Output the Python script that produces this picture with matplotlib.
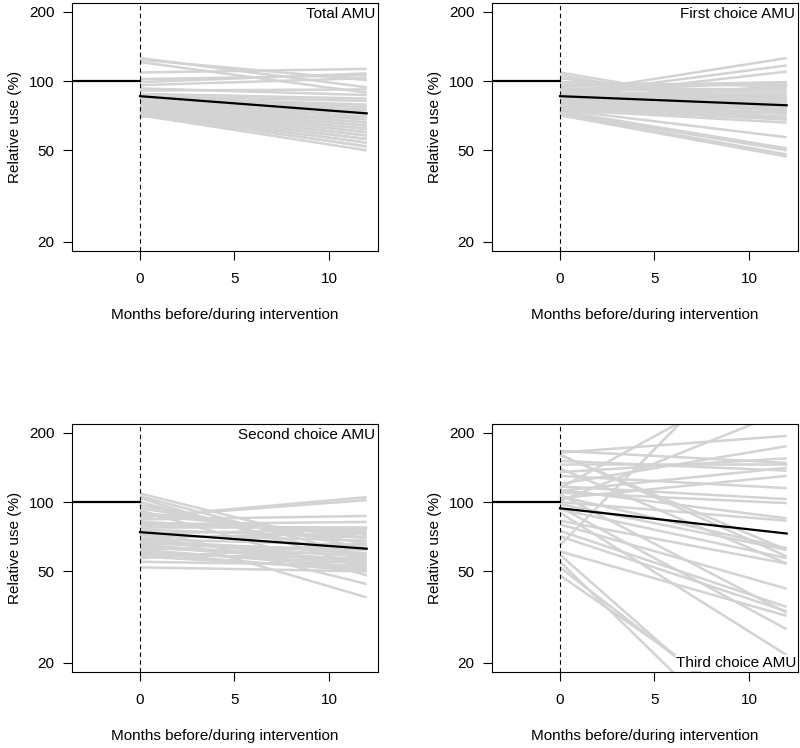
import numpy as np
import matplotlib.pyplot as plt
from matplotlib.ticker import FixedLocator, NullLocator

plt.rcParams['font.family'] = ['Liberation Sans', 'DejaVu Sans']
plt.rcParams['font.size'] = 11

# relative use (%) of each farm at month 0 and month 12
total_start = [126, 124, 121, 109, 102, 99, 96, 93, 91, 88, 86, 85, 84, 83, 82, 82, 81, 80, 80, 79,
               78, 78, 77, 77, 76, 76, 75, 75, 74, 74, 73, 73, 72, 72, 71, 71, 70]
total_end = [94, 101, 89, 113, 106, 108, 103, 87, 92, 84, 82, 79, 77, 75, 73, 72, 70, 68, 66, 66,
             64, 64, 62, 62, 60, 60, 58, 58, 56, 56, 54, 54, 52, 52, 50, 70, 75]

first_start = [109, 106, 103, 99, 97, 95, 93, 92, 90, 89, 88, 88, 87, 86, 85, 85, 84, 83, 83, 82,
               81, 80, 80, 79, 78, 78, 77, 76, 75, 75, 74, 73, 72, 71, 80, 84, 90]
first_end = [74, 72, 78, 95, 97, 99, 92, 90, 99, 88, 126, 86, 117, 85, 110, 84, 82, 81, 80, 78,
             77, 76, 75, 73, 72, 70, 69, 68, 66, 57, 51, 50, 48, 47, 96, 94, 83]

second_start = [109, 106, 104, 100, 97, 94, 92, 90, 88, 86, 86, 84, 82, 80, 79, 78, 77, 76, 75, 73,
                72, 70, 69, 68, 67, 66, 65, 64, 63, 62, 61, 60, 59, 58, 57, 55, 52]
second_end = [62, 58, 52, 56, 63, 66, 48, 70, 72, 105, 102, 87, 74, 82, 77, 78, 44, 70, 38.5, 76,
              68, 73, 65, 60, 58, 62, 56, 55, 59, 52, 54, 50, 57, 51, 66, 53, 50]

third_start = [167, 164, 161, 151, 146, 130, 117, 115, 113, 112, 110, 106, 101, 98, 93, 83, 80, 75, 71, 61,
               59, 55, 52, 100, 104, 108, 95, 90, 65, 48, 120, 135, 160, 140]
third_end = [148, 194, 58, 137, 146, 115, 103, 400, 85, 141, 99, 63, 250, 62, 57, 54, 42, 35, 33.5, 32,
             8, 6, 9, 83, 130, 33, 28, 21.6, 650, 10, 175, 155, 62, 54]

# overall trend (black line) at month 0 and 12
trend_start = [86, 86, 74, 94]
trend_end = [72.4, 78.5, 62.7, 73]

titles = ['Total AMU', 'First choice AMU', 'Second choice AMU', 'Third choice AMU']
starts = [total_start, first_start, second_start, third_start]
ends = [total_end, first_end, second_end, third_end]

fig = plt.figure(figsize=(8, 7.48), dpi=100)
lefts = [0.09, 0.615, 0.09, 0.615]
bottoms = [0.6644, 0.6644, 0.1016, 0.1016]

for i in range(4):
    ax = fig.add_axes([lefts[i], bottoms[i], 0.3825, 0.332])
    for s, e in zip(starts[i], ends[i]):
        ax.plot([0, 12], [s, e], color='#d3d3d3', lw=1.8, solid_capstyle='butt', zorder=1)
    ax.plot([-5, 0], [100, 100], color='black', lw=1.6, zorder=3)
    ax.plot([0, 12], [trend_start[i], trend_end[i]], color='black', lw=1.6, zorder=3)
    ax.axvline(0, color='black', lw=0.8, ls=(0, (4, 3)), zorder=2)

    ax.set_yscale('log')
    ax.set_ylim(20 / 10**0.04, 200 * 10**0.04)
    ax.set_xlim(-3.6, 12.6)
    ax.yaxis.set_major_locator(FixedLocator([20, 50, 100, 200]))
    ax.yaxis.set_minor_locator(NullLocator())
    ax.set_yticklabels(['20', '50', '100', '200'])
    ax.set_xticks([0, 5, 10])
    ax.tick_params(axis='both', length=6.5, width=0.8, labelsize=11)
    ax.tick_params(axis='x', pad=8.5)
    ax.tick_params(axis='y', pad=6)
    for sp in ax.spines.values():
        sp.set_linewidth(0.8)

    ax.set_xlabel('Months before/during intervention', fontsize=11, labelpad=16)
    ax.set_ylabel('Relative use (%)', fontsize=11, labelpad=5)

    if i == 3:
        ax.annotate(titles[i], xy=(1, 0), xycoords='axes fraction', xytext=(-1.5, 1.5),
                    textcoords='offset points', ha='right', va='bottom', fontsize=11, zorder=5,
                    bbox=dict(facecolor='white', edgecolor='none', pad=0.5))
    else:
        ax.annotate(titles[i], xy=(1, 1), xycoords='axes fraction', xytext=(-2, -3),
                    textcoords='offset points', ha='right', va='top', fontsize=11, zorder=5)

fig.savefig('out.png', dpi=100)
